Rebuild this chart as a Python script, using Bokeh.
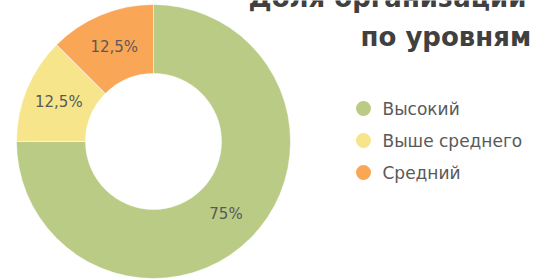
import math
from bokeh.plotting import figure
from bokeh.models import Range1d, ColumnDataSource
from bokeh.core.properties import value
from bokeh.embed import file_html
from bokeh.resources import INLINE

categories = ["Высокий", "Выше среднего", "Средний"]
shares = [75, 12.5, 12.5]
labels = ["75%", "12,5%", "12,5%"]
colors = ["#B9CB84", "#F6E58B", "#F9A756"]
title_lines = ["Доля организаций", "по уровням"]

W, H = 543, 280
p = figure(width=W, height=H, output_backend="svg", toolbar_location=None,
           x_range=Range1d(0, W), y_range=Range1d(0, H), min_border=0,
           outline_line_color=None)
p.axis.visible = False
p.grid.visible = False
p.background_fill_color = "white"
p.border_fill_color = "white"

cx, cy = 153, 139
r_out, r_in = 137, 68
total = sum(shares)
starts, ends, lx, ly = [], [], [], []
a = math.pi / 2
for s in shares:
    b = a - 2 * math.pi * s / total
    starts.append(a)
    ends.append(b)
    m = (a + b) / 2
    rm = (r_out + r_in) / 2
    lx.append(cx + rm * math.cos(m))
    ly.append(cy + rm * math.sin(m))
    a = b

src = ColumnDataSource(dict(start=starts, end=ends, color=colors, lx=lx, ly=ly, label=labels))
p.annular_wedge(x=cx, y=cy, inner_radius=r_in, outer_radius=r_out,
                start_angle="start", end_angle="end", direction="clock",
                fill_color="color", line_color="white", line_width=0.5, source=src)
p.text(x="lx", y="ly", text="label", source=src, text_align="center",
       text_baseline="middle", text_font=value("DejaVu Sans"),
       text_font_size="15px", text_color="#595959")

# legend
ly0 = [172 - 32 * i for i in range(len(categories))]
lsrc = ColumnDataSource(dict(x=[363] * len(categories), y=ly0, tx=[382] * len(categories),
                             color=colors, name=categories))
p.scatter(x="x", y="y", size=15, fill_color="color", line_color=None, source=lsrc)
p.text(x="tx", y="y", text="name", source=lsrc, text_align="left", text_baseline="middle",
       text_font=value("DejaVu Sans"), text_font_size="17px", text_color="#595959")

# title
p.text(x=[248, 360], y=[283, 244], text=title_lines, text_align="left",
       text_baseline="alphabetic", text_font=value("DejaVu Sans"),
       text_font_style="bold", text_font_size="26px", text_color="#404040")

open("out.html", "w").write(file_html(p, INLINE))
